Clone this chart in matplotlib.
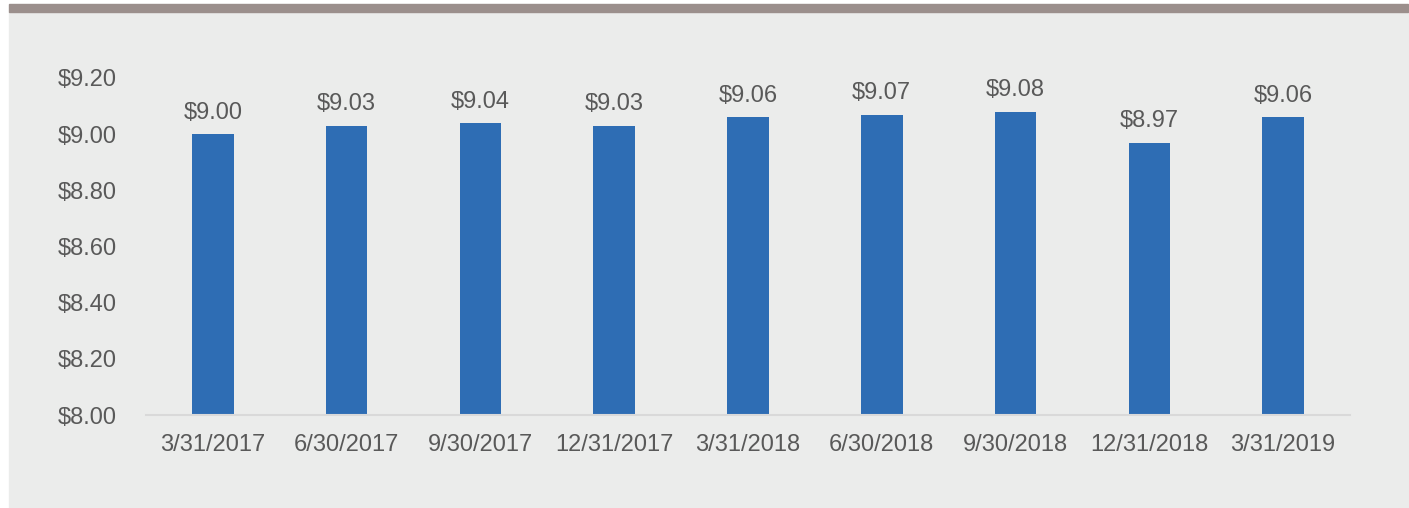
import matplotlib.pyplot as plt
from matplotlib.patches import Rectangle

# Dados
datas = ["3/31/2017", "6/30/2017", "9/30/2017", "12/31/2017", "3/31/2018",
         "6/30/2018", "9/30/2018", "12/31/2018", "3/31/2019"]
valores = [9.00, 9.03, 9.04, 9.03, 9.06, 9.07, 9.08, 8.97, 9.06]
yticks = [8.00, 8.20, 8.40, 8.60, 8.80, 9.00, 9.20]

cor_texto = "#595959"
plt.rcParams['font.family'] = ['Liberation Sans', 'DejaVu Sans']

fig = plt.figure(figsize=(14.09, 5.08), dpi=100)
fig.patch.set_facecolor("white")

# fundo cinza e faixa do topo
fig.patches.append(Rectangle((9/1409, 0), 1 - 10/1409, 1 - 12/508,
                             transform=fig.transFigure, color="#ebeceb", zorder=-5))
fig.patches.append(Rectangle((9/1409, 1 - 12/508), 1 - 10/1409, 8/508,
                             transform=fig.transFigure, color="#9b8f8c", zorder=-5))

ax = fig.add_axes([146/1409, 1 - 415/508, (1350 - 146)/1409, (415 - 78)/508])
ax.set_facecolor("none")

x = range(len(datas))
ax.bar(x, valores, width=0.31, color="#2e6db4", zorder=2)

# Valores em cima das barras
for i, v in enumerate(valores):
    ax.annotate(f"${v:.2f}", (i, v), xytext=(0, 7.5), textcoords="offset points",
                ha="center", va="bottom", fontsize=17, color=cor_texto)

ax.set_xlim(-0.5, len(datas) - 0.5)
ax.set_ylim(8.0, 9.2)
ax.set_xticks(list(x))
ax.set_xticklabels(datas)
ax.set_yticks(yticks)
ax.set_yticklabels([f"${t:.2f}" for t in yticks])
ax.tick_params(axis="both", length=0, labelsize=17, labelcolor=cor_texto)
ax.tick_params(axis="x", pad=13.5)
ax.tick_params(axis="y", pad=21)

for s in ["top", "right", "left"]:
    ax.spines[s].set_visible(False)
ax.spines["bottom"].set_color("#d9d9d9")
ax.spines["bottom"].set_linewidth(1.5)

fig.savefig("out.png", dpi=100)
